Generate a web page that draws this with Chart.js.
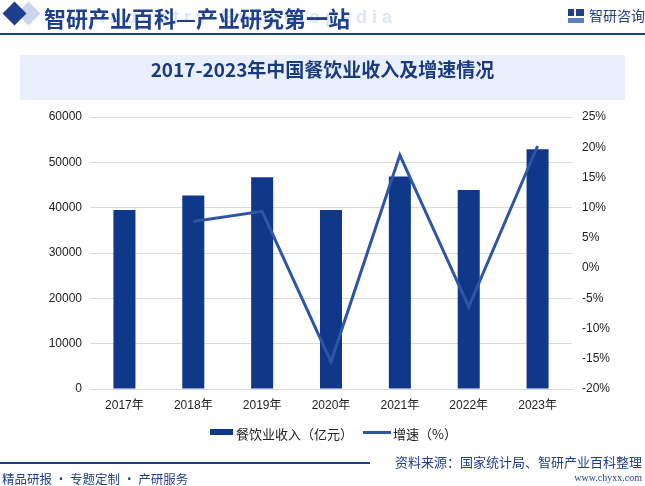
<!DOCTYPE html>
<html>
<head>
<meta charset="utf-8">
<title>2017-2023年中国餐饮业收入及增速情况</title>
<script src="https://cdn.jsdelivr.net/npm/chart.js"></script>
<style>
  body { margin: 0; background: #fff; font-family: "Liberation Sans", "Noto Sans CJK SC", sans-serif; }
  #wrap { position: relative; width: 645px; height: 486px; overflow: hidden; background: #fff; }
  #chart { position: absolute; left: 0; top: 0; }
  .abs { position: absolute; white-space: nowrap; }
  .dia { position: absolute; width: 17px; height: 17px; transform: rotate(45deg); }
  #hdrTitle { left: 44px; top: 1px; font: bold 22px "Noto Sans CJK SC", sans-serif; color: #1e3f8c; }
  #hdrWm { left: 100px; top: 7px; font: bold 18px "Liberation Sans", sans-serif; color: #dde6f3; letter-spacing: 5px; }
  #hdrLine { left: 0; top: 33px; width: 645px; height: 2px; background: #1e3f8c; }
  #logoTxt { left: 589px; top: 5px; font: 14px "Noto Sans CJK SC", sans-serif; color: #1e3f8c; }
  #titleBox { left: 20px; top: 55px; width: 605px; height: 45px; background: #e9f0fb; }
  #titleTxt { left: 0; top: 55px; width: 645px; height: 45px; line-height: 45px; text-align: center;
              font: bold 19px "Noto Sans CJK SC", sans-serif; color: #1a3a80; }
  .leg { top: 424px; font: 13px "Noto Sans CJK SC", sans-serif; color: #222; }
  #footLine { left: 0; top: 462px; width: 370px; height: 2px; background: #1e3f8c; }
  #footL { left: 2px; top: 469px; font: 12.5px "Noto Sans CJK SC", sans-serif; color: #1e3f8c; }
  #footR { right: 3px; top: 452px; font: 13px "Noto Sans CJK SC", sans-serif; color: #1e3f8c; }
  #footUrl { right: 3px; top: 472px; font: 10px "Liberation Serif", serif; color: #1e3f8c; }
</style>
</head>
<body>
<div id="wrap">
  <canvas id="chart" width="645" height="486"></canvas>

  <div class="dia" style="left:20px; top:5px; background:#c9d6ec;"></div>
  <div class="dia" style="left:6px; top:5px; background:#1e3f8c;"></div>
  <div id="hdrWm" class="abs">Industry Encyclopedia</div>
  <div id="hdrTitle" class="abs">智研产业百科—产业研究第一站</div>
  <div class="abs" style="left:568px; top:9px; width:6px; height:7px; background:#1e3f8c;"></div>
  <div class="abs" style="left:576px; top:9px; width:8px; height:7px; background:#1e3f8c;"></div>
  <div class="abs" style="left:568px; top:18px; width:16px; height:5px; background:#5a7fc0;"></div>
  <div id="logoTxt" class="abs">智研咨询</div>
  <div id="hdrLine" class="abs"></div>

  <div id="titleBox" class="abs"></div>
  <div id="titleTxt" class="abs">2017-2023年中国餐饮业收入及增速情况</div>

  <div class="abs" style="left:210px; top:429px; width:23px; height:6px; background:#10388a;"></div>
  <div class="abs leg" style="left:236px;">餐饮业收入（亿元）</div>
  <div class="abs" style="left:363px; top:431px; width:28px; height:3px; background:#2f55a5;"></div>
  <div class="abs leg" style="left:393px;">增速（%）</div>

  <div id="footLine" class="abs"></div>
  <div id="footL" class="abs">精品研报 · 专题定制 · 产研服务</div>
  <div id="footR" class="abs">资料来源：国家统计局、智研产业百科整理</div>
  <div id="footUrl" class="abs">www.chyxx.com</div>
</div>

<script>
  // data
  const years = ["2017年", "2018年", "2019年", "2020年", "2021年", "2022年", "2023年"];
  const revenue = [39500, 42700, 46700, 39500, 46900, 43900, 52900];   // 亿元
  const growth = [null, 7.7, 9.4, -15.5, 18.7, -6.4, 20.2];           // %

  const tickFont = { family: "'Liberation Sans', 'Noto Sans CJK SC', sans-serif", size: 12 };

  new Chart(document.getElementById("chart").getContext("2d"), {
    type: "bar",
    data: {
      labels: years,
      datasets: [
        {
          type: "line",
          label: "增速（%）",
          data: growth,
          yAxisID: "y1",
          borderColor: "#2f55a5",
          backgroundColor: "#2f55a5",
          borderWidth: 3,
          pointRadius: 0,
          tension: 0,
          order: 0
        },
        {
          label: "餐饮业收入（亿元）",
          data: revenue,
          yAxisID: "y",
          backgroundColor: "#10388a",
          barPercentage: 0.32,
          categoryPercentage: 1,
          order: 1
        }
      ]
    },
    options: {
      responsive: false,
      animation: false,
      devicePixelRatio: 1,
      layout: { padding: { left: 0, right: 0, top: 117, bottom: 67 } },
      plugins: { legend: { display: false }, tooltip: { enabled: false } },
      scales: {
        x: {
          grid: { display: false, drawTicks: false },
          border: { display: true, color: "#d9d9d9" },
          ticks: { font: tickFont, color: "#222", padding: 9 },
          afterFit: (s) => { s.height = 30; }
        },
        y: {
          position: "left",
          min: 0,
          max: 60000,
          ticks: { stepSize: 10000, font: tickFont, color: "#222", padding: 8,
                   callback: (v) => String(v) },
          grid: { color: "#d9d9d9", drawTicks: false },
          border: { display: false },
          afterFit: (s) => { s.width = 90; }
        },
        y1: {
          position: "right",
          min: -20,
          max: 25,
          ticks: { stepSize: 5, font: tickFont, color: "#222", padding: 10,
                   callback: (v) => v + "%" },
          grid: { display: false, drawTicks: false },
          border: { display: false },
          afterFit: (s) => { s.width = 73; }
        }
      }
    }
  });
</script>
</body>
</html>
